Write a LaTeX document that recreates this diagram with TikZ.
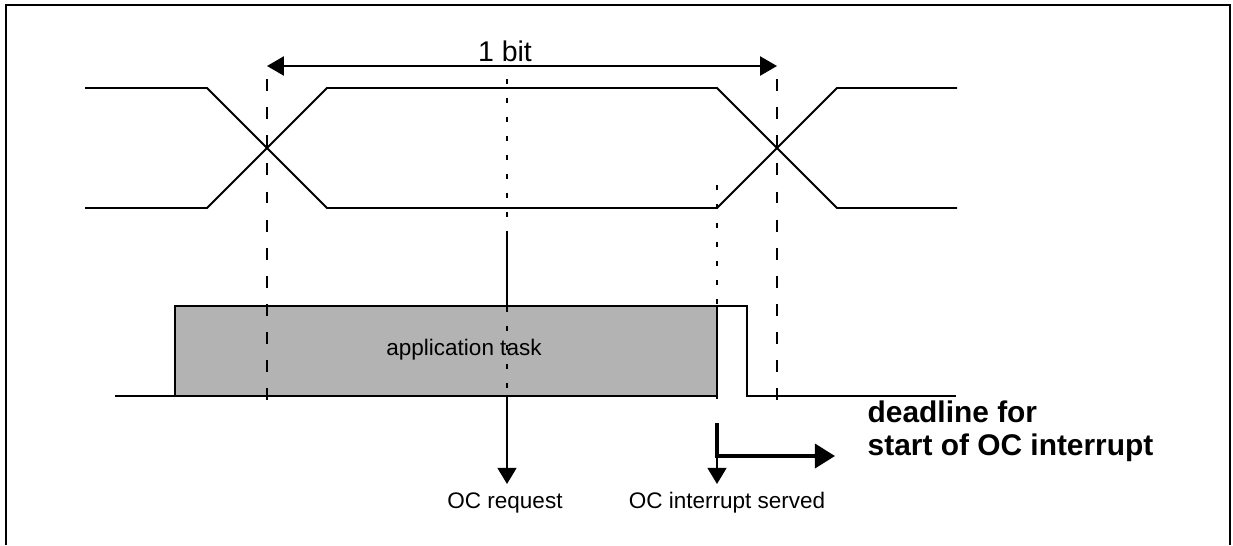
\documentclass[tikz,border=0pt]{standalone}
\usepackage{fontspec}
\setmainfont{Liberation Sans}
\usetikzlibrary{arrows.meta}
\definecolor{taskgray}{RGB}{179,179,179}

\begin{document}
\begin{tikzpicture}[x=0.01cm, y=-0.01cm,
    every node/.style={inner sep=0pt, text=black},
    frame/.style={line width=0.75pt},
    wave/.style={line width=0.55pt},
    bitline/.style={line width=0.5pt, dash pattern=on 3.4pt off 4.6pt},
    eventline/.style={line width=0.5pt, dash pattern=on 1.4pt off 4pt},
    event/.style={line width=0.5pt, -{Triangle[length=4.6pt, width=5.4pt]}},
    span/.style={line width=0.6pt, {Triangle[length=4.8pt, width=5.4pt]}-{Triangle[length=4.8pt, width=5.4pt]}},
    late/.style={line width=1.1pt, -{Triangle[length=5.7pt, width=6.8pt]}},
    small/.style={font=\fontsize{6.4}{7.5}\selectfont},
    big/.style={font=\fontsize{8.1}{9.5}\selectfont},
    note/.style={font=\fontsize{8.5}{9.4}\selectfont\bfseries, align=left},
    ]
  \useasboundingbox (0,0) rectangle (1233,545);
  \draw[frame] (6,545) -- (6,5) -- (1230,5) -- (1230,545);

  % bit signal
  \draw[wave] (85,88) -- (207,88) -- (327,208) -- (717,208) -- (837,88) -- (957,88);
  \draw[wave] (85,208) -- (207,208) -- (327,88) -- (717,88) -- (837,208) -- (957,208);

  \coordinate (bitstart) at (267,66);
  \coordinate (bitend) at (777,66);
  \draw[span] (bitstart) -- (bitend);
  \node[big] (bitlabel) at (505,51) {1 bit};

  % events
  \coordinate (reqtop) at (507,233);
  \coordinate (reqtip) at (507,484);
  \coordinate (srvtop) at (717,423);
  \coordinate (srvknee) at (717,456);
  \coordinate (srvtip) at (717,484);
  \coordinate (deadtip) at (835,456);
  \draw[event] (reqtop) -- (reqtip);
  \draw[event] (srvknee) -- (srvtip);
  \draw[late] (srvtop) -- (srvknee) -- (deadtip);

  % task line
  \draw[wave, fill=taskgray] (175,306) rectangle (717,396);
  \node[small] (task) at (464,350) {application task};
  \draw[wave] (115,396) -- (175,396);
  \draw[wave] (717,306) -- (747,306) -- (747,396) -- (956,396);

  \draw[bitline] (267,79) -- (267,410);
  \draw[bitline] (777,79) -- (777,410);
  \draw[eventline] (507,79) -- (507,395);
  \draw[eventline] (717,185) -- (717,410);

  \node[small] (req) at (505,503) {OC request};
  \node[small] (srv) at (727,503) {OC interrupt served};
  \node[note, anchor=west] (deadline) at (867,431) {deadline for\\start of OC interrupt};
\end{tikzpicture}
\end{document}
